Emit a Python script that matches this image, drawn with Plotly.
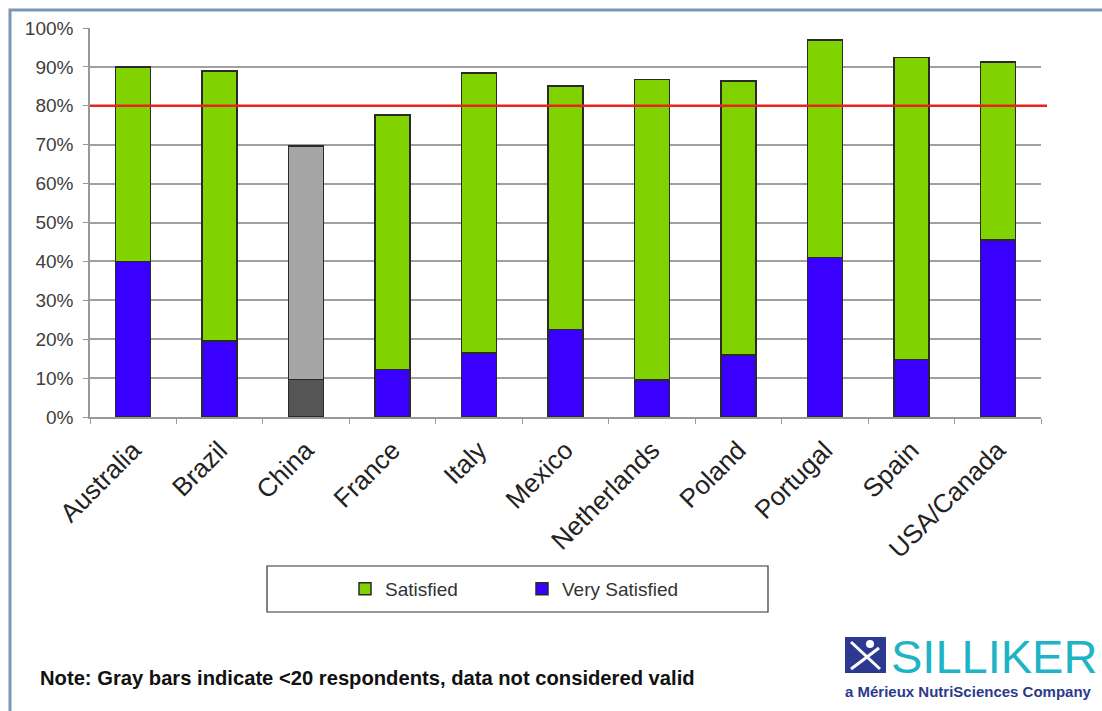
import plotly.graph_objects as go

countries = ["Australia", "Brazil", "China", "France", "Italy", "Mexico",
             "Netherlands", "Poland", "Portugal", "Spain", "USA/Canada"]
very_satisfied = [40.0, 19.6, 9.7, 12.2, 16.4, 22.5, 9.5, 16.0, 41.0, 14.8, 45.5]
satisfied = [50.0, 69.4, 60.0, 65.4, 72.0, 62.6, 77.3, 70.4, 55.9, 77.6, 45.7]
gray_country = "China"
target = 80
y_ticks = [0, 10, 20, 30, 40, 50, 60, 70, 80, 90, 100]
y_tick_labels = ["0%", "10%", "20%", "30%", "40%", "50%", "60%", "70%", "80%", "90%", "100%"]

GREEN = "#80d200"
BLUE = "#3a00ff"
GRAY_LIGHT = "#a6a6a6"
GRAY_DARK = "#555555"

W, H = 1102, 711
ML, MR, MT, MB = 90, 61, 28, 294
PW, PH = W - ML - MR, H - MT - MB


def px(x):
    return (x - ML) / PW


def py(y):
    return (H - MB - y) / PH


very_colors = [GRAY_DARK if c == gray_country else BLUE for c in countries]
sat_colors = [GRAY_LIGHT if c == gray_country else GREEN for c in countries]

fig = go.Figure()
fig.add_trace(go.Bar(x=countries, y=very_satisfied, name="Very Satisfied",
                     marker=dict(color=very_colors, line=dict(color="#2a2a2a", width=1.5))))
fig.add_trace(go.Bar(x=countries, y=satisfied, name="Satisfied",
                     marker=dict(color=sat_colors, line=dict(color="#2a2a2a", width=1.5))))

shapes = [
    # outer frame
    dict(type="rect", xref="paper", yref="paper", x0=px(10), x1=px(1120), y0=py(10), y1=py(730),
         line=dict(color="#7b96b8", width=3), layer="below"),
    # target line
    dict(type="line", xref="paper", yref="y", x0=0, x1=px(1047), y0=target, y1=target,
         line=dict(color="#e8231a", width=2.5)),
    # legend box
    dict(type="rect", xref="paper", yref="paper", x0=px(267), x1=px(768), y0=py(566), y1=py(612),
         line=dict(color="#333333", width=1.2), fillcolor="white", layer="below"),
    # logo icon
    dict(type="rect", xref="paper", yref="paper", x0=px(845), x1=px(886), y0=py(637), y1=py(673),
         line=dict(width=0), fillcolor="#2b3990"),
    dict(type="line", xref="paper", yref="paper", x0=px(851), x1=px(880), y0=py(642), y1=py(669),
         line=dict(color="white", width=3)),
    dict(type="line", xref="paper", yref="paper", x0=px(879), x1=px(851), y0=py(648), y1=py(669),
         line=dict(color="white", width=3)),
    dict(type="circle", xref="paper", yref="paper", x0=px(866), x1=px(874), y0=py(640), y1=py(648),
         line=dict(width=0), fillcolor="white"),
]

annotations = [
    dict(text="<b>Note: Gray bars indicate &lt;20 respondents, data not considered valid</b>",
         xref="paper", yref="paper", x=px(38), y=py(678), xanchor="left", yanchor="middle",
         showarrow=False, font=dict(size=20.2, color="#111111", family="Liberation Sans, Arial")),
    dict(text="SILLIKER", xref="paper", yref="paper", x=px(889), y=py(656),
         xanchor="left", yanchor="middle", showarrow=False,
         font=dict(size=47, color="#1eb4c6", family="Liberation Sans, Arial")),
    dict(text="<b>a Mérieux NutriSciences Company</b>", xref="paper", yref="paper",
         x=px(843), y=py(691), xanchor="left", yanchor="middle", showarrow=False,
         font=dict(size=15, color="#2b3a8c", family="Liberation Sans, Arial")),
]

fig.update_layout(
    width=W, height=H,
    margin=dict(l=ML, r=MR, t=MT, b=MB),
    paper_bgcolor="white", plot_bgcolor="white",
    barmode="stack", bargap=0.595,
    font=dict(family="Liberation Sans, Arial", color="#333333"),
    showlegend=True,
    legend=dict(orientation="h", traceorder="reversed", x=px(345), y=py(589),
                xanchor="left", yanchor="middle", bgcolor="rgba(0,0,0,0)",
                font=dict(size=19, color="#333333"), entrywidth=132),
    shapes=shapes,
    annotations=annotations,
)
fig.update_yaxes(range=[0, 100], tickvals=y_ticks, ticktext=y_tick_labels,
                 showgrid=True, gridcolor="#a0a0a0", gridwidth=1.5,
                 showline=True, linecolor="#999999", linewidth=1.5,
                 ticks="outside", ticklen=5, tickcolor="#999999",
                 ticklabelstandoff=6,
                 tickfont=dict(size=19, color="#404040"), zeroline=False)
fig.update_xaxes(tickangle=-45, tickfont=dict(size=26, color="#222222"),
                 showline=True, linecolor="#999999", linewidth=1.5,
                 ticks="outside", ticklen=5, tickcolor="#999999", tickson="boundaries",
                 ticklabelstandoff=6, showgrid=False)

fig.write_html("out.html")
